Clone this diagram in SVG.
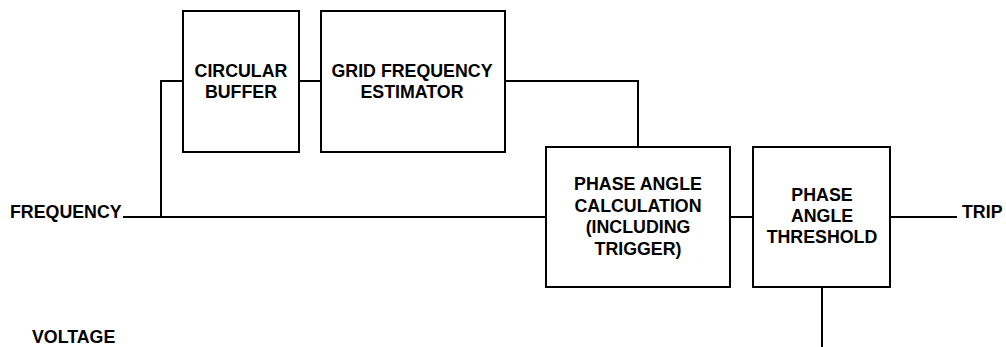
<svg xmlns="http://www.w3.org/2000/svg" width="1006" height="347" viewBox="0 0 1006 347">
<style>
.box{fill:#fff;stroke:#000;stroke-width:2}
.ln{fill:none;stroke:#000;stroke-width:2}
text{font-family:"Liberation Sans",Arial,sans-serif;font-weight:bold;font-size:17.8px;fill:#000}
.c{text-anchor:middle}
</style>
<rect width="1006" height="347" fill="#fff"/>
<g id="connectors">
<path class="ln" d="M123 217 H546"/>
<path class="ln" d="M161 217 V81 H183"/>
<path class="ln" d="M299 81 H321"/>
<path class="ln" d="M505 81 H638 V147"/>
<path class="ln" d="M730 217 H753"/>
<path class="ln" d="M890 217 H957"/>
<path class="ln" d="M822 287 V347"/>
</g>
<g id="buffer">
<rect class="box" x="183" y="11" width="116" height="141"/>
<text class="c" x="241" y="77">CIRCULAR</text>
<text class="c" x="241" y="98">BUFFER</text>
</g>
<g id="estimator">
<rect class="box" x="321" y="11" width="184" height="141"/>
<text class="c" x="412" y="77">GRID FREQUENCY</text>
<text class="c" x="412" y="98">ESTIMATOR</text>
</g>
<g id="phasecalc">
<rect class="box" x="546" y="147" width="184" height="140"/>
<text class="c" x="638" y="190">PHASE ANGLE</text>
<text class="c" x="638" y="212">CALCULATION</text>
<text class="c" x="638" y="233">(INCLUDING</text>
<text class="c" x="638" y="255">TRIGGER)</text>
</g>
<g id="threshold">
<rect class="box" x="753" y="147" width="137" height="140"/>
<text class="c" x="822" y="201">PHASE</text>
<text class="c" x="822" y="222">ANGLE</text>
<text class="c" x="822" y="243">THRESHOLD</text>
</g>
<g id="labels">
<text x="10" y="218">FREQUENCY</text>
<text x="962" y="218">TRIP</text>
<text x="32" y="343">VOLTAGE</text>
</g>
</svg>
